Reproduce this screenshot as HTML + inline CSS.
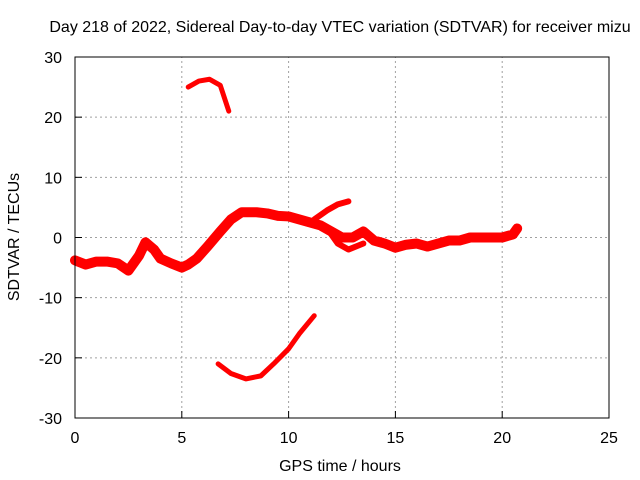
<!DOCTYPE html>
<html><head><meta charset="utf-8"><style>
body{margin:0;background:#fff}
svg{display:block;font-family:"Liberation Sans",sans-serif;font-size:16px}
</style></head><body>
<svg id="chart" width="640" height="480" viewBox="0 0 640 480">
<rect width="640" height="480" fill="#fff"/>
<text x="340" y="32" text-anchor="middle">Day 218 of 2022, Sidereal Day-to-day VTEC variation (SDTVAR) for receiver mizu</text>
<g id="grid"></g><g id="series"></g><g id="axes"></g>
<text x="340" y="471" text-anchor="middle">GPS time / hours</text>
<text x="19" y="237" text-anchor="middle" transform="rotate(-90 19 237)">SDTVAR / TECUs</text>
</svg>
<script>
const xTicks=[0,5,10,15,20,25];
const yTicks=[-30,-20,-10,0,10,20,30];
const mainT=[0,0.5,1,1.5,2,2.5,3,3.3,3.7,4,4.5,5,5.3,5.7,6.2,6.8,7.3,7.8,8.5,9,9.5,10,10.5,11,11.5,12,12.5,13,13.5,14,14.5,15,15.5,16,16.5,17,17.5,18,18.5,19,19.5,20,20.5,20.7];
const mainV=[-3.8,-4.5,-4,-4,-4.3,-5.5,-3,-0.8,-2,-3.5,-4.3,-5,-4.5,-3.5,-1.5,1,3,4.2,4.2,4,3.6,3.5,3,2.5,2,1,0,0,1,-0.5,-1,-1.7,-1.2,-1,-1.5,-1,-0.5,-0.5,0,0,0,0,0.5,1.5];
const branch1T=[11.2,11.8,12.3,12.8];
const branch1V=[3,4.5,5.5,6];
const branch2T=[11.8,12.3,12.8,13.5];
const branch2V=[1.5,-1,-2,-1];
const upperT=[5.3,5.8,6.3,6.8,7.2];
const upperV=[25,26,26.3,25.3,21];
const lowerT=[6.7,7.3,8,8.7,9.3,10,10.5,11.2];
const lowerV=[-21,-22.6,-23.5,-23,-21,-18.5,-16,-13];
const X0=75,X1=609,Y0=418,Y1=57;
const sx=v=>X0+(v-0)/(25-0)*(X1-X0);
const sy=v=>Y0-(v+30)/60*(Y0-Y1);
const NS='http://www.w3.org/2000/svg';
function mk(tag,attrs,parent){const e=document.createElementNS(NS,tag);for(const k in attrs)e.setAttribute(k,attrs[k]);parent.appendChild(e);return e;}
const grid=document.getElementById('grid'),axes=document.getElementById('axes'),ser=document.getElementById('series');
xTicks.forEach(t=>{
 if(t>0&&t<25){const g=mk('line',{x1:sx(t),x2:sx(t),y1:Y0,y2:Y1,stroke:'#a0a0a0','stroke-dasharray':'2,3'},grid);
 
 }
 const tk=mk('line',{x1:sx(t),x2:sx(t),y1:Y0,y2:Y0-7,stroke:'#000'},axes);
 
 
 const l=mk('text',{x:sx(t),y:Y0+25,'text-anchor':'middle'},axes);l.textContent=t;
 
 
});
yTicks.forEach(t=>{
 if(t>-30&&t<30){const g=mk('line',{x1:X0,x2:X1,y1:sy(t),y2:sy(t),stroke:'#a0a0a0','stroke-dasharray':'2,3'},grid);
 
 }
 const tk=mk('line',{x1:X0,x2:X0+7,y1:sy(t),y2:sy(t),stroke:'#000'},axes);
 
 
 const l=mk('text',{x:X0-13,y:sy(t)+6,'text-anchor':'end'},axes);l.textContent=t;
 
 
});
const box=mk('rect',{x:X0,y:Y1,width:X1-X0,height:Y0-Y1,fill:'none',stroke:'#000'},axes);


function series(T,V,w,name){
 const p=mk('polyline',{points:T.map((t,i)=>sx(t)+','+sy(V[i])).join(' '),fill:'none',stroke:'#f00','stroke-width':w,'stroke-linejoin':'round','stroke-linecap':'round'},ser);
 
 
}
series(mainT,mainV,10,'sdtvar-main-trace');
series(branch1T,branch1V,6,'sdtvar-branch-upper');
series(branch2T,branch2V,6,'sdtvar-branch-lower');
series(upperT,upperV,5,'sdtvar-upper-arc');
series(lowerT,lowerV,5,'sdtvar-lower-arc');
</script>
</body></html>
